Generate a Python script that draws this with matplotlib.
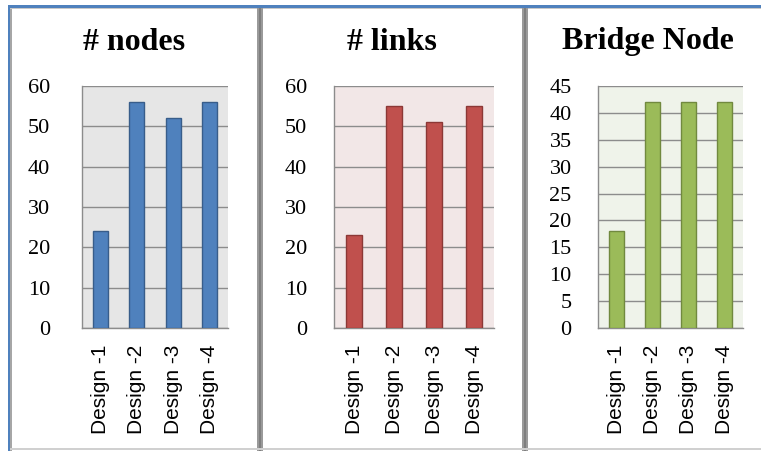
import matplotlib
matplotlib.use('Agg')
import matplotlib.pyplot as plt
from matplotlib.patches import Rectangle

# data for the three panels
designs = ['Design -1', 'Design -2', 'Design -3', 'Design -4']
nodes = [24, 56, 52, 56]
links = [23, 55, 51, 55]
bridge_nodes = [18, 42, 42, 42]

titles = ['# nodes', '# links', 'Bridge Node']
y_max = [60, 60, 45]
y_step = [10, 10, 5]

W, H = 761, 451
fig = plt.figure(figsize=(W / 100, H / 100), dpi=100)
fig.patch.set_facecolor('white')

def px_box(x0, x1, y0, y1):
    # pixel box (top-left origin) -> figure fraction rect
    return [x0 / W, 1 - y1 / H, (x1 - x0) / W, (y1 - y0) / H]

# panel layout: plot-area pixels, tick pad, title centre
panels = [
    dict(values=nodes, box=(82, 228, 86, 328), pad=23, title_x=134,
         face='#4F81BD', edge='#385D8A', bg='#E6E6E6'),
    dict(values=links, box=(334, 494, 86, 328), pad=19.5, title_x=392,
         face='#C0504D', edge='#8C3836', bg='#F2E7E7'),
    dict(values=bridge_nodes, box=(598, 743, 86, 328), pad=19, title_x=648,
         face='#9BBB59', edge='#71893F', bg='#EFF3EA'),
]

serif = 'Liberation Serif'
sans = 'Liberation Sans'
grid_col = '#8C8C8C'

for i, p in enumerate(panels):
    ax = fig.add_axes(px_box(*p['box']))
    ax.set_facecolor(p['bg'])
    x = range(len(designs))
    ax.bar(x, p['values'], width=0.42, color=p['face'], edgecolor=p['edge'],
           linewidth=1.0, zorder=3)
    ax.set_xlim(-0.5, len(designs) - 0.5)
    ax.set_ylim(0, y_max[i])
    ax.set_yticks(range(0, y_max[i] + 1, y_step[i]))
    ax.yaxis.grid(True, color=grid_col, linewidth=1.0, zorder=1)
    ax.set_axisbelow(True)
    ax.set_xticks(list(x))
    ax.set_xticklabels(designs, rotation=90, fontsize=15, family=sans)
    ax.tick_params(axis='y', length=0, pad=p['pad'], labelsize=16,
                   labelfontfamily=serif)
    ax.tick_params(axis='x', length=0, pad=12)
    for side in ['top', 'right']:
        ax.spines[side].set_visible(False)
    for side in ['left', 'bottom']:
        ax.spines[side].set_color(grid_col)
        ax.spines[side].set_linewidth(1.0)
    fig.text(p['title_x'] / W, 1 - 42 / H, titles[i], ha='center', va='center',
             fontsize=23, fontweight='bold', family=serif)

# frame: blue top/left border, grey panel dividers and bottom rule
def px_rect(x0, x1, y0, y1, color):
    fig.add_artist(Rectangle((x0 / W, 1 - y1 / H), (x1 - x0) / W, (y1 - y0) / H,
                             transform=fig.transFigure, facecolor=color,
                             edgecolor='none', zorder=10))

px_rect(8, W, 5, 8, '#4F81BD')
px_rect(8, 10, 5, H, '#4F81BD')
px_rect(10, 12, 8, H, '#A6A6A6')
px_rect(10, W, 8, 9, '#C8C8C8')
px_rect(257, 263, 8, H, '#9A9A9A')
px_rect(259, 261, 8, H, '#7F7F7F')
px_rect(522, 528, 8, H, '#9A9A9A')
px_rect(524, 526, 8, H, '#7F7F7F')
px_rect(10, W, 448, 450, '#D0D0D0')

fig.savefig('out.png', dpi=100, facecolor='white')
